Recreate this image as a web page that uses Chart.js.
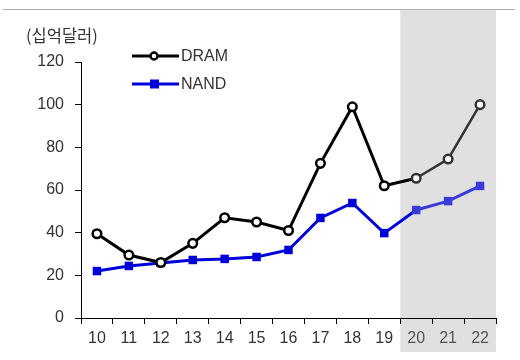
<!DOCTYPE html>
<html>
<head>
<meta charset="utf-8">
<script src="https://cdn.jsdelivr.net/npm/chart.js@4"></script>
<style>
html,body{margin:0;padding:0;background:#fff;}
#wrap{position:relative;width:520px;height:360px;}
</style>
</head>
<body>
<div id="wrap"><canvas id="c" width="520" height="360"></canvas></div>
<script>
const categories = ['10','11','12','13','14','15','16','17','18','19','20','21','22'];
const dramValues = [39.5, 29.5, 26, 35, 47, 45, 41, 72.5, 99, 62, 65.5, 74.5, 100];
const nandValues = [22, 24.4, 25.8, 27.2, 27.7, 28.6, 31.9, 46.9, 53.9, 39.8, 50.6, 54.8, 61.9];
const yTicks = [0, 20, 40, 60, 80, 100, 120];
const unitLabel = '(십억달러)';
const forecastStart = 10; // index of '20'

const FONT = '"Liberation Sans", Arial, sans-serif';
const DRAM_C = '#000000', DRAM_F = '#333333';
const NAND_C = '#0000d8', NAND_F = '#3a3ad8';

const decorPlugin = {
  id: 'decor',
  beforeDraw(chart) {
    const ctx = chart.ctx, x = chart.scales.x;
    const step = x.getPixelForValue(1) - x.getPixelForValue(0);
    const x0 = x.getPixelForValue(forecastStart) - step / 2;
    const x1 = x.getPixelForValue(categories.length - 1) + step / 2;
    ctx.save();
    ctx.fillStyle = '#e0e0e0';
    ctx.fillRect(x0, 10, x1 - x0, 342);
    ctx.strokeStyle = '#b0b0b0';
    ctx.lineWidth = 1;
    ctx.beginPath(); ctx.moveTo(3, 9.5); ctx.lineTo(515, 9.5); ctx.stroke();
    ctx.fillStyle = '#333';
    ctx.font = '16.5px "Noto Sans CJK KR", sans-serif';
    ctx.textBaseline = 'middle';
    ctx.fillText(unitLabel, 26, 36);
    ctx.restore();
  },
  afterDraw(chart) {
    const ctx = chart.ctx;
    ctx.save();
    const items = [
      {label: 'DRAM', y: 56, color: DRAM_C, type: 'circle'},
      {label: 'NAND', y: 84, color: NAND_C, type: 'square'}
    ];
    items.forEach(it => {
      ctx.strokeStyle = it.color; ctx.lineWidth = 3;
      ctx.beginPath(); ctx.moveTo(132, it.y); ctx.lineTo(179, it.y); ctx.stroke();
      if (it.type === 'circle') {
        ctx.fillStyle = '#fff'; ctx.lineWidth = 2.5;
        ctx.beginPath(); ctx.arc(154, it.y, 3.5, 0, Math.PI * 2); ctx.fill(); ctx.stroke();
      } else {
        ctx.fillStyle = it.color;
        ctx.fillRect(150, it.y - 4.5, 9, 9);
      }
      ctx.fillStyle = '#333';
      ctx.font = '16px ' + FONT;
      ctx.textBaseline = 'middle';
      ctx.fillText(it.label, 181, it.y + 1);
    });
    ctx.restore();
  }
};

const fc = (a, b) => (ctx) => ctx.dataIndex >= forecastStart ? b : a;

new Chart(document.getElementById('c'), {
  type: 'line',
  data: {
    labels: categories,
    datasets: [
      {
        label: 'DRAM', data: dramValues,
        borderColor: DRAM_C, borderWidth: 3,
        segment: { borderColor: c => c.p0DataIndex >= forecastStart ? DRAM_F : DRAM_C, borderWidth: c => c.p0DataIndex >= forecastStart ? 2.5 : 3 },
        pointStyle: 'circle', pointRadius: 4.3, pointBorderWidth: 2.5,
        pointBackgroundColor: '#ffffff', pointBorderColor: fc(DRAM_C, DRAM_F),
        tension: 0
      },
      {
        label: 'NAND', data: nandValues,
        borderColor: NAND_C, borderWidth: 3,
        segment: { borderColor: c => c.p0DataIndex >= forecastStart ? NAND_F : NAND_C },
        pointStyle: 'rect', pointRadius: 6, pointBorderWidth: 0,
        pointBackgroundColor: fc(NAND_C, NAND_F), pointBorderColor: fc(NAND_C, NAND_F),
        tension: 0
      }
    ]
  },
  options: {
    responsive: false, animation: false,
    layout: { padding: { top: 62, right: 24, left: 0, bottom: 0 } },
    plugins: { legend: { display: false }, tooltip: { enabled: false } },
    scales: {
      x: {
        offset: true,
        grid: { offset: true, drawOnChartArea: false, drawTicks: true, tickLength: 6, color: '#000', lineWidth: 1 },
        border: { display: true, color: '#000', width: 1 },
        ticks: { color: c => c.index >= forecastStart ? '#555' : '#333', font: { family: FONT, size: 16 }, padding: 5, maxRotation: 0, autoSkip: false },
        afterFit(s) { s.height = 42; }
      },
      y: {
        min: 0, max: 120,
        afterBuildTicks(s) { s.ticks = yTicks.map(v => ({ value: v })); },
        grid: { drawOnChartArea: false, drawTicks: true, tickLength: 6, color: '#000', lineWidth: 1 },
        border: { display: true, color: '#000', width: 1 },
        ticks: { color: '#333', font: { family: FONT, size: 16 }, padding: 11 },
        afterFit(s) { s.width = 81; }
      }
    }
  },
  plugins: [decorPlugin]
});
</script>
</body>
</html>
